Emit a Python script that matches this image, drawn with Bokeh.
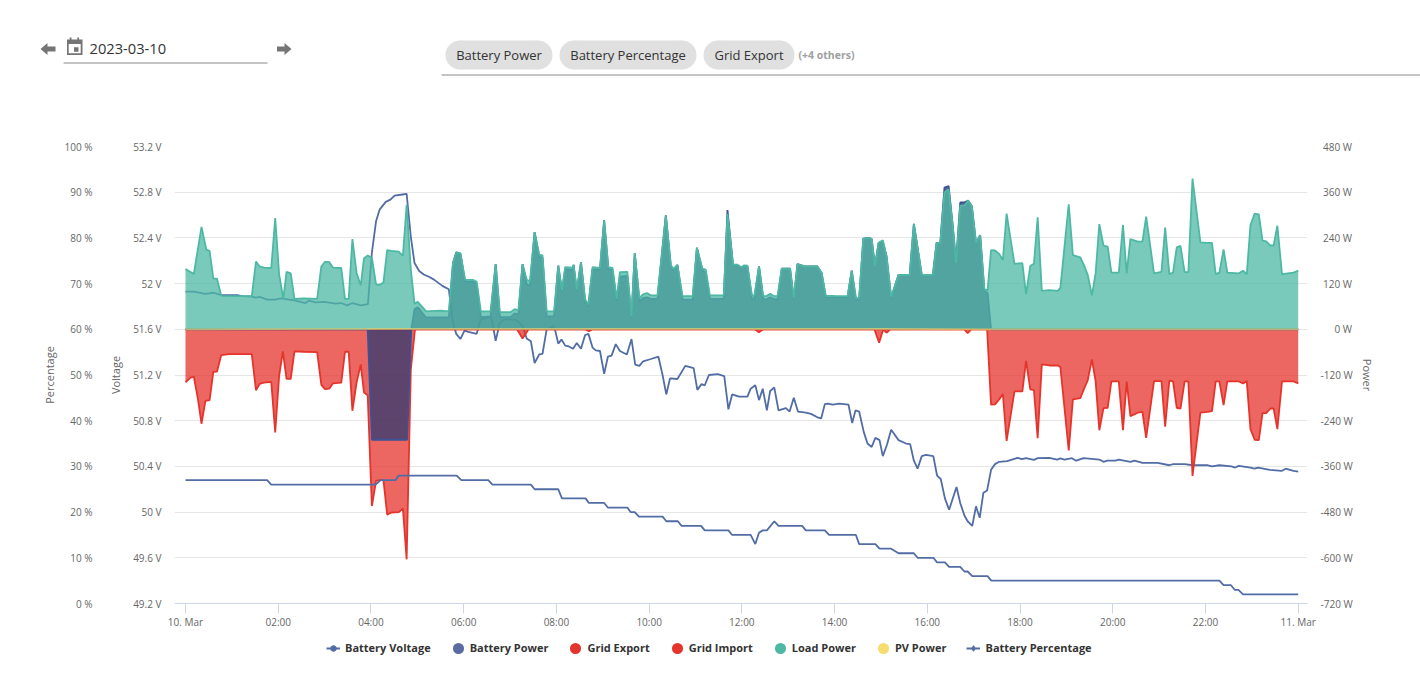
from bokeh.embed import file_html
from bokeh.resources import INLINE
from bokeh.plotting import figure
from bokeh.layouts import column
from bokeh.core.properties import value
from bokeh.models import (Range1d, LinearAxis, FixedTicker, Legend, LegendItem)

# ---------------- header texts ----------------
date_text = "2023-03-10"
chip_labels = ["Battery Power", "Battery Percentage", "Grid Export"]
others_text = "(+4 others)"

# ---------------- tick labels ----------------
time_ticks = [0, 2, 4, 6, 8, 10, 12, 14, 16, 18, 20, 22, 24]
time_labels = ["10. Mar", "02:00", "04:00", "06:00", "08:00", "10:00", "12:00",
               "14:00", "16:00", "18:00", "20:00", "22:00", "11. Mar"]
pct_ticks = [0, 10, 20, 30, 40, 50, 60, 70, 80, 90, 100]
pct_labels = ["0 %", "10 %", "20 %", "30 %", "40 %", "50 %", "60 %", "70 %", "80 %", "90 %", "100 %"]
volt_ticks = [49.2, 49.6, 50.0, 50.4, 50.8, 51.2, 51.6, 52.0, 52.4, 52.8, 53.2]
volt_labels = ["49.2 V", "49.6 V", "50 V", "50.4 V", "50.8 V", "51.2 V", "51.6 V", "52 V", "52.4 V", "52.8 V", "53.2 V"]
power_ticks = [-720, -600, -480, -360, -240, -120, 0, 120, 240, 360, 480]
F, N = "\u2007", "\u00a0"
power_labels = ["-720 W", "-600 W", "-480 W", "-360 W", "-240 W", "-120 W",
                F + F + N + "0 W", N + "120 W", N + "240 W", N + "360 W", N + "480 W"]

# ---------------- series (time in hours of the day) ----------------
load_hours = [0, .18, .345, .45, .52, .60, .68, .77, 1.115, 1.43, 1.52, 1.60, 1.69, 1.85, 1.935, 2.02, 2.11, 2.18, 2.27, 2.35,
              2.55, 2.84, 2.93, 3.01, 3.10, 3.18, 3.36, 3.44, 3.52, 3.60, 3.69, 3.78, 3.85, 3.93, 4.02, 4.11, 4.19, 4.27, 4.35, 4.44,
              4.60, 4.69, 4.77, 4.86, 4.94, 5.01, 5.19, 5.50, 5.68, 5.77, 5.84, 5.93, 6.03, 6.20, 6.28, 6.37, 6.58, 6.69, 6.78, 7.01,
              7.10, 7.18, 7.27, 7.36, 7.43, 7.53, 7.63, 7.70, 7.79, 7.95, 8.04, 8.12, 8.19, 8.35, 8.37, 8.44, 8.53, 8.62, 8.69, 8.78,
              8.94, 9.03, 9.12, 9.21, 9.30, 9.37, 9.53, 9.62, 9.69, 9.79, 9.86, 9.95, 10.04, 10.18, 10.36, 10.47, 10.53, 10.61, 10.72, 10.94,
              11.03, 11.15, 11.22, 11.31, 11.61, 11.69, 11.81, 11.90, 11.99, 12.05, 12.12, 12.22, 12.27, 12.37, 12.46, 12.52, 12.61, 12.68, 12.77, 12.86,
              13.04, 13.12, 13.20, 13.35, 13.63, 13.72, 13.81, 13.96, 14.03, 14.28, 14.37, 14.46, 14.53, 14.62, 14.75, 14.80, 14.87, 14.95, 15.04, 15.12,
              15.22, 15.38, 15.62, 15.71, 15.88, 16.12, 16.20, 16.28, 16.37, 16.46, 16.55, 16.62, 16.71, 16.80, 16.88, 16.96, 17.05, 17.14, 17.23, 17.30,
              17.375, 17.46, 17.55, 17.63, 17.71, 17.88, 18.05, 18.13, 18.22, 18.30, 18.38, 18.47, 18.63, 18.81, 18.87, 19.05, 19.14, 19.30, 19.39, 19.46,
              19.55, 19.63, 19.71, 19.80, 19.89, 19.97, 20.13, 20.22, 20.30, 20.38, 20.54, 20.64, 20.72, 20.89, 21.05, 21.13, 21.22, 21.30, 21.38, 21.46,
              21.55, 21.63, 21.72, 21.89, 22.05, 22.14, 22.22, 22.30, 22.39, 22.47, 22.72, 22.81, 22.89, 22.97, 23.06, 23.15, 23.23, 23.31, 23.40, 23.47,
              23.55, 23.65, 23.90, 24]
load_watts = [158, 145, 269, 209, 206, 133, 133, 88, 87, 87, 178, 165, 162, 161, 292, 144, 80, 151, 147, 80,
              81, 80, 165, 177, 177, 162, 161, 80, 80, 237, 148, 115, 186, 194, 188, 118, 117, 123, 208, 206,
              204, 193, 327, 157, 67, 72, 47, 49, 47, 174, 202, 200, 130, 130, 125, 47, 47, 171, 45, 45,
              53, 50, 171, 130, 126, 255, 196, 194, 47, 47, 167, 102, 163, 162, 169, 104, 176, 78, 65, 163,
              161, 286, 163, 161, 80, 150, 151, 34, 200, 82, 91, 95, 89, 89, 299, 167, 159, 169, 87, 87,
              214, 159, 157, 89, 89, 303, 170, 170, 163, 168, 167, 88, 89, 165, 88, 87, 93, 88, 87, 159,
              159, 82, 171, 165, 165, 148, 88, 88, 87, 87, 154, 82, 82, 238, 240, 237, 165, 227, 234, 192,
              85, 143, 143, 277, 143, 143, 227, 227, 360, 367, 270, 174, 325, 325, 338, 323, 227, 247, 106, 102,
              208, 207, 198, 182, 304, 172, 174, 92, 166, 172, 294, 101, 103, 101, 109, 328, 195, 189, 165, 143,
              89, 147, 276, 220, 217, 149, 149, 274, 147, 237, 230, 230, 296, 147, 151, 267, 145, 149, 215, 219,
              150, 150, 396, 228, 227, 227, 145, 149, 210, 149, 147, 154, 144, 274, 304, 302, 233, 231, 220, 220,
              272, 145, 149, 154]

battery_hours = [0, 3.93, 4.02, 4.78, 4.87, 4.94, 5.01, 5.19, 5.68, 5.77, 5.84, 5.93, 6.03, 6.20, 6.28, 6.37, 6.58, 6.69, 6.78, 7.01,
                 7.10, 7.18, 7.27, 7.36, 7.43, 7.53, 7.63, 7.70, 7.79, 7.95, 8.04, 8.12, 8.19, 8.35, 8.37, 8.44, 8.53, 8.62, 8.69, 8.78,
                 8.94, 9.03, 9.12, 9.21, 9.30, 9.37, 9.53, 9.62, 9.69, 9.79, 9.86, 9.95, 10.04, 10.18, 10.36, 10.47, 10.53, 10.61, 10.72, 10.94,
                 11.03, 11.15, 11.22, 11.31, 11.61, 11.69, 11.81, 11.90, 11.99, 12.05, 12.12, 12.22, 12.27, 12.37, 12.46, 12.52, 12.61, 12.68, 12.77, 12.86,
                 13.04, 13.12, 13.20, 13.35, 13.63, 13.72, 13.81, 13.96, 14.03, 14.28, 14.37, 14.46, 14.53, 14.62, 14.75, 14.80, 14.87, 14.95, 15.04, 15.12,
                 15.22, 15.38, 15.62, 15.71, 15.88, 16.12, 16.20, 16.28, 16.37, 16.46, 16.55, 16.62, 16.71, 16.80, 16.88, 16.96, 17.05, 17.14, 17.23, 17.30,
                 17.375, 24]
battery_watts = [0, 0, -290, -290, 0, 53, 58, 31, 31, 174, 202, 198, 125, 125, 120, 32, 34, 171, 32, 32,
                 42, 38, 171, 118, 114, 255, 190, 188, 34, 34, 167, 98, 158, 156, 169, 100, 176, 72, 60, 158,
                 156, 286, 158, 156, 74, 138, 140, 30, 200, 72, 82, 84, 80, 80, 299, 163, 155, 169, 78, 78,
                 214, 154, 150, 80, 80, 313, 168, 168, 161, 166, 165, 78, 80, 165, 80, 78, 84, 80, 78, 159,
                 159, 78, 171, 165, 165, 148, 84, 84, 84, 84, 154, 78, 78, 238, 240, 237, 165, 227, 230, 192,
                 82, 143, 143, 277, 143, 143, 227, 227, 372, 376, 270, 174, 333, 333, 338, 323, 227, 247, 100, 96,
                 0, 0]

grid_hours = [0, .11, .18, .27, .345, .43, .52, .60, .68, .77, .94, 1.115, 1.43, 1.52, 1.60, 1.69, 1.85, 1.935, 2.02, 2.10,
              2.18, 2.27, 2.35, 2.55, 2.84, 2.93, 3.01, 3.10, 3.18, 3.36, 3.44, 3.52, 3.60, 3.69, 3.78, 3.85, 3.93, 4.02, 4.11, 4.19,
              4.27, 4.35, 4.44, 4.60, 4.69, 4.77, 4.86, 4.95, 7.15, 7.27, 7.40, 8.62, 8.70, 8.78, 12.28, 12.37, 12.46, 14.86, 14.96, 15.05,
              15.12, 15.2, 16.8, 16.87, 16.95, 17.23, 17.29, 17.375, 17.46, 17.55, 17.63, 17.71, 17.88, 18.05, 18.13, 18.22, 18.30, 18.38, 18.47, 18.63,
              18.81, 18.87, 19.05, 19.14, 19.30, 19.39, 19.46, 19.55, 19.63, 19.71, 19.80, 19.89, 19.97, 20.13, 20.22, 20.30, 20.38, 20.54, 20.64, 20.72,
              20.89, 21.05, 21.13, 21.22, 21.30, 21.38, 21.46, 21.55, 21.63, 21.72, 21.89, 22.05, 22.14, 22.22, 22.30, 22.39, 22.47, 22.72, 22.81, 22.89,
              22.97, 23.06, 23.15, 23.23, 23.31, 23.40, 23.47, 23.55, 23.65, 23.90, 24]
grid_watts = [-139, -127, -124, -184, -248, -188, -186, -112, -111, -68, -65, -65, -65, -160, -143, -140, -138, -271, -122, -58,
              -130, -130, -58, -59, -60, -146, -157, -156, -142, -140, -59, -59, -214, -140, -92, -166, -173, -464, -398, -396,
              -396, -487, -481, -480, -471, -604, -105, 0, 0, -24, 0, 0, -5, 0, 0, -8, 0, 0, -35, 0,
              -9, 0, 0, -10, 0, 0, 0, -198, -197, -184, -170, -293, -163, -163, -83, -158, -160, -286, -92, -95,
              -95, -99, -318, -184, -181, -153, -134, -79, -136, -265, -207, -206, -137, -137, -265, -137, -228, -219, -217, -285,
              -136, -136, -256, -135, -137, -206, -208, -137, -137, -385, -219, -217, -215, -137, -137, -199, -137, -137, -142, -136,
              -262, -290, -291, -220, -220, -208, -208, -262, -137, -137, -142]

export_hours = [0, 24]
export_watts = [0, 0]
pv_hours = [0, 4.9, 9, 12, 15, 17.3, 24]
pv_watts = [0, 1, 1, 1, 1, 0, 0]

volt_hours = [0, .18, .43, .61, .77, 1.115, 1.21, 1.43, 1.52, 1.60, 1.76, 1.935, 2.05, 2.35, 2.59, 2.66, 2.81, 2.99, 3.24, 3.35,
              3.49, 3.60, 3.78, 3.935, 4.02, 4.11, 4.19, 4.32, 4.42, 4.51, 4.68, 4.77, 4.86, 4.94, 5.04, 5.14, 5.25, 5.36, 5.54, 5.68,
              5.77, 5.84, 5.93, 6.02, 6.08, 6.28, 6.37, 6.58, 6.62, 6.69, 6.78, 6.87, 7.12, 7.27, 7.36, 7.45, 7.53, 7.63, 7.70, 7.79,
              7.95, 8.04, 8.11, 8.19, 8.27, 8.36, 8.44, 8.53, 8.62, 8.69, 8.78, 8.85, 8.94, 9.03, 9.11, 9.19, 9.28, 9.37, 9.52, 9.62,
              9.70, 9.79, 9.87, 10.04, 10.20, 10.29, 10.37, 10.45, 10.61, 10.78, 10.96, 11.04, 11.13, 11.2, 11.29, 11.48, 11.62, 11.71, 11.79, 11.94,
              12.12, 12.19, 12.29, 12.37, 12.45, 12.54, 12.61, 12.70, 12.79, 12.95, 13.03, 13.12, 13.21, 13.38, 13.49, 13.63, 13.71, 13.79, 13.85, 13.96,
              14.10, 14.30, 14.38, 14.45, 14.53, 14.63, 14.71, 14.80, 14.88, 14.97, 15.04, 15.13, 15.22, 15.38, 15.54, 15.63, 15.71, 15.79, 15.88, 15.97,
              16.13, 16.21, 16.29, 16.38, 16.47, 16.63, 16.71, 16.80, 16.87, 16.97, 17.05, 17.13, 17.21, 17.29, 17.375, 17.46, 17.55, 17.72, 17.95, 18.04,
              18.13, 18.30, 18.38, 18.63, 18.80, 18.87, 18.96, 19.12, 19.21, 19.37, 19.71, 19.80, 19.88, 20.06, 20.13, 20.38, 20.47, 20.64, 20.97, 21.22,
              21.30, 21.55, 21.73, 22.05, 22.14, 22.30, 22.56, 22.64, 22.72, 22.97, 23.06, 23.13, 23.39, 23.64, 23.73, 23.82, 23.90, 24]
volt_values = [51.93, 51.93, 51.91, 51.92, 51.90, 51.90, 51.89, 51.886, 51.877, 51.883, 51.86, 51.86, 51.87, 51.854, 51.83, 51.85, 51.836, 51.84, 51.825, 51.83,
               51.81, 51.83, 51.81, 51.82, 52.27, 52.545, 52.65, 52.715, 52.735, 52.77, 52.78, 52.785, 52.41, 52.18, 52.11, 52.08, 52.06, 52.035, 51.98, 51.95,
               51.655, 51.56, 51.515, 51.59, 51.58, 51.56, 51.685, 51.71, 51.655, 51.50, 51.655, 51.685, 51.685, 51.63, 51.52, 51.495, 51.305, 51.38, 51.385, 51.6,
               51.63, 51.475, 51.51, 51.457, 51.45, 51.43, 51.48, 51.43, 51.55, 51.56, 51.44, 51.416, 51.41, 51.21, 51.36, 51.37, 51.47, 51.41, 51.38, 51.515,
               51.29, 51.28, 51.32, 51.34, 51.36, 51.20, 51.03, 51.17, 51.165, 51.28, 51.26, 51.07, 51.12, 51.11, 51.20, 51.207, 51.19, 50.90, 51.03, 51.01,
               51.01, 51.08, 51.11, 50.98, 51.08, 50.89, 51.06, 51.09, 50.89, 50.91, 50.88, 51.0, 50.88, 50.87, 50.86, 50.83, 50.82, 50.945, 50.95, 50.94,
               50.95, 50.94, 50.78, 50.89, 50.88, 50.70, 50.60, 50.57, 50.65, 50.63, 50.49, 50.59, 50.72, 50.63, 50.60, 50.595, 50.45, 50.38, 50.49, 50.50,
               50.49, 50.32, 50.29, 50.12, 50.02, 50.22, 50.08, 49.97, 49.92, 49.88, 50.05, 49.95, 50.17, 50.19, 50.37, 50.42, 50.44, 50.446, 50.475, 50.463,
               50.472, 50.457, 50.472, 50.475, 50.46, 50.47, 50.46, 50.472, 50.45, 50.472, 50.46, 50.44, 50.45, 50.45, 50.46, 50.44, 50.45, 50.43, 50.43, 50.41,
               50.42, 50.42, 50.41, 50.41, 50.40, 50.41, 50.40, 50.39, 50.405, 50.39, 50.38, 50.39, 50.37, 50.36, 50.38, 50.37, 50.36, 50.355]

pct_hours = [0, 1.76, 1.85, 4.10, 4.21, 4.53, 4.60, 5.85, 5.95, 6.53, 6.62, 7.45, 7.53, 8.04, 8.12, 8.63, 8.70, 9.03, 9.11, 9.53,
             9.60, 9.69, 9.78, 10.29, 10.37, 10.62, 10.70, 11.12, 11.2, 11.71, 11.79, 12.19, 12.29, 12.37, 12.45, 12.54, 12.70, 12.79, 13.30, 13.38,
             13.79, 13.88, 14.46, 14.53, 14.88, 14.97, 15.22, 15.38, 15.71, 15.79, 16.13, 16.21, 16.38, 16.47, 16.71, 16.80, 16.87, 16.97, 17.30, 17.38,
             22.30, 22.39, 22.55, 22.63, 22.71, 22.81, 24]
pct_values = [27, 27, 26, 26, 27, 27, 28, 28, 27, 27, 26, 26, 25, 25, 23, 23, 22, 22, 21, 21,
              20, 20, 19, 19, 18, 18, 17, 17, 16, 16, 15, 15, 13, 15.5, 16, 16, 18, 17, 17, 16,
              16, 15, 15, 13, 13, 12, 12, 11, 11, 10, 10, 9, 9, 8, 8, 7, 7, 6, 6, 5,
              5, 4, 4, 3, 3, 2, 2]

# ---------------- colours ----------------
BLUE = "#526ca5"
BATT_FILL = "#2e3870"
BATT_LINE = "#3c5296"
BATT_KEY = "#5b6ba1"
RED = "#e5342c"
TEAL = "#4db8a4"
YELLOW = "#f7dc6f"
GREY = "#666666"
FONT = "Open Sans"
LINE_W = 1.8

# ---------------- header ----------------
header = figure(width=1420, height=88, x_range=Range1d(0, 1420), y_range=Range1d(88, 0),
                x_axis_type=None, y_axis_type=None, toolbar_location=None, output_backend="svg",
                min_border=0, outline_line_color=None, frame_align=False)
header.grid.visible = False
ICON = "#757575"
header.patch([40, 47, 47, 55, 55, 47, 47], [48.5, 42.5, 46, 46, 51, 51, 54.5], fill_color=ICON, line_color=None)
header.patch([291, 284, 284, 276.5, 276.5, 284, 284], [48.5, 42.5, 46, 46, 51, 51, 54.5], fill_color=ICON, line_color=None)
header.quad(left=[66.5], right=[82], top=[39], bottom=[54.5], fill_color=ICON, line_color=None)
header.quad(left=[68.2], right=[80.2], top=[43.5], bottom=[52.8], fill_color="white", line_color=None)
header.quad(left=[73.5], right=[78], top=[46.8], bottom=[51.2], fill_color=ICON, line_color=None)
header.quad(left=[69.2, 76.8], right=[71, 78.6], top=[37, 37], bottom=[40, 40], fill_color=ICON, line_color=None)
header.text([89], [48], text=[date_text], text_font=value(FONT), text_font_size="14.7px",
            text_color="#333333", text_baseline="middle")
header.line([63, 267], [62.5, 62.5], line_color="#8a8a8a", line_width=1)
chip_left = [445, 559, 703]
chip_right = [552, 696, 794]
CHIP = "#e0e0e0"
header.quad(left=[v + 14.5 for v in chip_left], right=[v - 14.5 for v in chip_right],
            top=[40, 40, 40], bottom=[69, 69, 69], fill_color=CHIP, line_color=None)
header.circle([v + 14.5 for v in chip_left], [54.5] * 3, radius=14.5, fill_color=CHIP, line_color=None)
header.circle([v - 14.5 for v in chip_right], [54.5] * 3, radius=14.5, fill_color=CHIP, line_color=None)
header.text([(a + b) / 2 for a, b in zip(chip_left, chip_right)], [54.5] * 3, text=chip_labels,
            text_font=value(FONT), text_font_size="13px", text_color="#333333",
            text_align="center", text_baseline="middle")
header.text([798], [54], text=[others_text], text_font=value(FONT), text_font_size="10.5px",
            text_font_style="bold", text_color="#a0a0a0", text_baseline="middle")
header.line([441, 1420], [74.5, 74.5], line_color="#8a8a8a", line_width=1)

# ---------------- chart ----------------
p = figure(width=1420, height=545, x_range=Range1d(-0.237, 24.2), y_range=Range1d(-720, 480),
           y_axis_location="right", toolbar_location=None, output_backend="svg",
           min_border_left=174, min_border_right=113, min_border_top=58, min_border_bottom=30,
           outline_line_color=None, frame_align=False)
p.extra_y_ranges = {"volt": Range1d(49.2, 53.2), "pct": Range1d(0, 100)}
p.xgrid.visible = False
p.ygrid.grid_line_color = "#e6e6e6"
p.ygrid.ticker = FixedTicker(ticks=power_ticks)

xa = p.xaxis[0]
xa.ticker = FixedTicker(ticks=time_ticks)
xa.major_label_overrides = dict(zip(time_ticks, time_labels))
xa.axis_line_color = "#ccd6eb"
xa.major_tick_line_color = "#ccd6eb"
xa.major_tick_out = 10
xa.major_tick_in = 0
xa.minor_tick_line_color = None
xa.major_label_standoff = 1
xa.major_label_text_font = FONT
xa.major_label_text_font_size = "10px"
xa.major_label_text_color = GREY


def style_y(ax, standoff, title_standoff):
    ax.axis_line_color = None
    ax.major_tick_line_color = None
    ax.minor_tick_line_color = None
    ax.major_tick_out = 0
    ax.major_tick_in = 0
    ax.major_label_standoff = standoff
    ax.major_label_text_font = FONT
    ax.major_label_text_font_size = "10px"
    ax.major_label_text_color = GREY
    ax.axis_label_text_font = FONT
    ax.axis_label_text_font_size = "11px"
    ax.axis_label_text_font_style = "normal"
    ax.axis_label_text_color = GREY
    ax.axis_label_standoff = title_standoff


ra = p.yaxis[0]
ra.axis_label = "Power"
ra.ticker = FixedTicker(ticks=power_ticks)
ra.major_label_overrides = dict(zip(power_ticks, power_labels))
style_y(ra, 13, 4)

va = LinearAxis(y_range_name="volt", axis_label="Voltage", ticker=FixedTicker(ticks=volt_ticks),
                major_label_overrides=dict(zip(volt_ticks, volt_labels)))
style_y(va, 13, 7)
pa = LinearAxis(y_range_name="pct", axis_label="Percentage", ticker=FixedTicker(ticks=pct_ticks),
                major_label_overrides=dict(zip(pct_ticks, pct_labels)))
style_y(pa, 13, 4)
p.add_layout(va, "left")
p.add_layout(pa, "left")


def area(hours, watts, fill, line, alpha=0.75):
    base = [0] * len(hours)
    p.varea(hours, base, watts, fill_color=fill, fill_alpha=alpha)
    return p.line(hours, watts, line_color=line, line_width=LINE_W)


p.line(volt_hours, volt_values, y_range_name="volt", line_color=BLUE, line_width=LINE_W)
area(grid_hours, grid_watts, RED, RED)
area(export_hours, export_watts, RED, RED)
area(battery_hours, battery_watts, BATT_FILL, BATT_LINE)
area(load_hours, load_watts, TEAL, TEAL)
p.line(pv_hours, pv_watts, line_color=YELLOW, line_width=LINE_W, line_alpha=0.65)
p.line(pct_hours, pct_values, y_range_name="pct", line_color=BLUE, line_width=LINE_W)

# ---------------- legend strip: its key marks lie outside the strip's visible range ----------------
lf = figure(width=1420, height=47, x_range=Range1d(0, 1420), y_range=Range1d(0, 47),
            x_axis_type=None, y_axis_type=None, toolbar_location=None, output_backend="svg",
            min_border=0, outline_line_color=None, frame_align=False)
lf.grid.visible = False
OFF = [-100]


def key_dot(color):
    return lf.scatter(OFF, OFF, marker="circle", size=6, fill_color=color, line_color=color, line_width=5.5)


kv_line = lf.line(OFF, OFF, line_color=BLUE, line_width=2)
kv_dot = lf.scatter(OFF, OFF, marker="circle", size=6, fill_color=BLUE, line_color=BLUE)
kp_line = lf.line(OFF, OFF, line_color=BLUE, line_width=2)
kp_dot = lf.scatter(OFF, OFF, marker="diamond", size=8, fill_color=BLUE, line_color=BLUE)

legend = Legend(items=[
    LegendItem(label="Battery Voltage", renderers=[kv_line, kv_dot]),
    LegendItem(label="Battery Power", renderers=[key_dot(BATT_KEY)]),
    LegendItem(label="Grid Export", renderers=[key_dot(RED)]),
    LegendItem(label="Grid Import", renderers=[key_dot(RED)]),
    LegendItem(label="Load Power", renderers=[key_dot(TEAL)]),
    LegendItem(label="PV Power", renderers=[key_dot(YELLOW)]),
    LegendItem(label="Battery Percentage", renderers=[kp_line, kp_dot]),
], orientation="horizontal", location=(326, 25), spacing=20, glyph_width=14, glyph_height=14,
    label_standoff=5, padding=0, margin=0, border_line_color=None, background_fill_alpha=0,
    label_text_font=FONT, label_text_font_style="bold", label_text_font_size="11px",
    label_text_color="#333333", label_height=14)
lf.add_layout(legend, "center")

page = column(header, p, lf, spacing=0)
open("out.html", "w").write(file_html(page, INLINE))
